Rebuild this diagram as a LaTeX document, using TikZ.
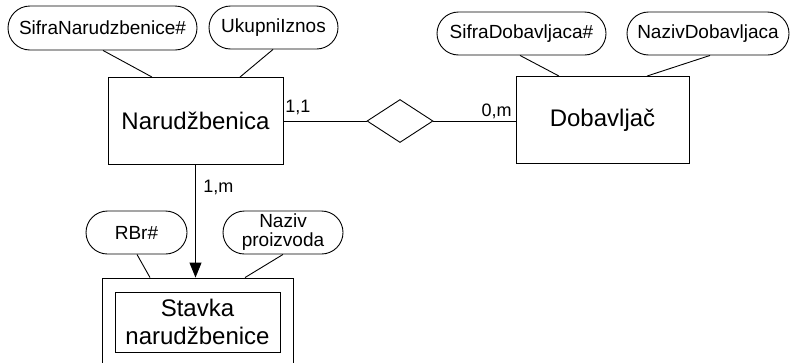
\documentclass[tikz,border=0pt]{standalone}
\usepackage{fontspec}
\setmainfont{Liberation Sans}
\usetikzlibrary{shapes.geometric,shapes.misc,arrows.meta}
\tikzset{
  ent/.style={draw,rectangle,inner sep=0pt,font=\fontsize{24}{28}\selectfont,align=center},
  attr/.style={draw,rounded rectangle,inner sep=0pt,minimum height=43,font=\fontsize{19}{22}\selectfont,align=center},
  rel/.style={draw,diamond,inner sep=0pt,minimum width=66,minimum height=43},
  card/.style={inner sep=0pt,font=\fontsize{18}{21}\selectfont},
  conn/.style={line width=0.9pt},
}
\begin{document}
\begin{tikzpicture}[x=1pt,y=-1pt,line width=0.9pt]
\clip (0,0) rectangle (791,362);
% entities
\node[ent,minimum width=175,minimum height=87] (nar) at (195.5,121) {Narudžbenica};
\node[ent,minimum width=173,minimum height=87] (dob) at (602.5,120) {Dobavljač};
\node[rel] (r) at (400,121) {};
% weak entity
\node[ent,minimum width=191,minimum height=94] (outer) at (197.5,325) {};
\node[ent,minimum width=165,minimum height=60] (inner) at (197.5,322) {Stavka\\narudžbenice};
% attributes
\node[attr,minimum width=189,minimum height=44] (sn) at (102.5,28) {SifraNarudzbenice\#};
\node[attr,minimum width=129] (uk) at (273.5,27.5) {UkupniIznos};
\node[attr,minimum width=169] (sd) at (521.5,33.5) {SifraDobavljaca\#};
\node[attr,minimum width=162] (nd) at (708,33.5) {NazivDobavljaca};
\node[attr,minimum width=101] (rb) at (136.5,232.5) {RBr\#};
\node[attr,minimum width=120] (np) at (283,232.5) {Naziv\\[-3pt]proizvoda};
% attribute links
\draw[conn] ([xshift=0.5]sn.south) -- ([xshift=-43.5]nar.north);
\draw[conn] ([xshift=-0.5]uk.south) -- ([xshift=44.5]nar.north);
\draw[conn] ([xshift=-1.5]sd.south) -- ([xshift=-43.5]dob.north);
\draw[conn] ([xshift=2]nd.south) -- ([xshift=44.5]dob.north);
\draw[conn] ([xshift=0.5]rb.south) -- ([xshift=-47.5]outer.north);
\draw[conn] (np.south) -- ([xshift=47.5]outer.north);
% relationship links
\draw[conn] (nar.east) -- (r.west);
\draw[conn] (r.east) -- (r.east -| dob.west);
\draw[conn,-{Triangle[width=12,length=15]}] (nar.south) -- (nar.south |- outer.north);
% cardinalities
\node[card,anchor=base west] (c1) at (285,112) {1,1};
\node[card,anchor=base east] (c2) at (512,116) {0,m};
\node[card,anchor=base west] (c3) at (203,192) {1,m};
\end{tikzpicture}
\end{document}
